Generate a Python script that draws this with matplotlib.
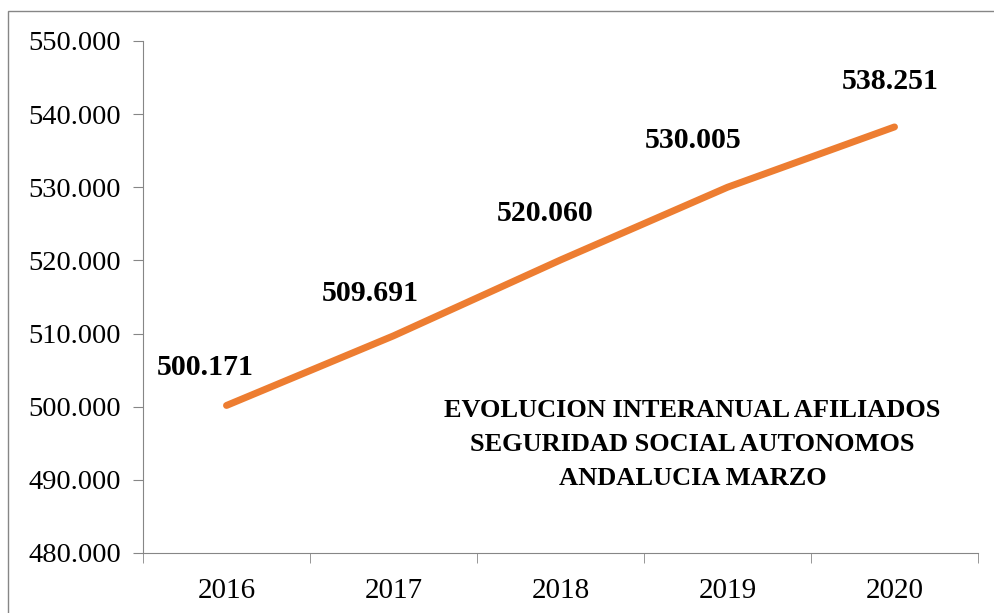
import numpy as np
import matplotlib.pyplot as plt
from matplotlib.patches import Rectangle
from matplotlib.ticker import FuncFormatter, FixedLocator

# Datos: afiliados autonomos Andalucia (marzo)
anios = ['2016', '2017', '2018', '2019', '2020']
afiliados = [500171, 509691, 520060, 530005, 538251]
titulo = 'EVOLUCION INTERANUAL AFILIADOS\nSEGURIDAD SOCIAL AUTONOMOS\nANDALUCIA MARZO'

# desplazamiento de las etiquetas (px) respecto al punto
desplaz = [(-21, 38), (-23, 42), (-15, 46), (-34, 47), (-4, 45)]

fuente = 'Liberation Serif'
gris = '#868686'
naranja = '#ED7D31'

def miles(v, pos=None):
    return f"{v:,.0f}".replace(",", ".")

fig = plt.figure(figsize=(9.95, 6.13), dpi=100)
ax = fig.add_axes([143/995, 1 - 553/613, (978 - 143)/995, (553 - 41)/613])

x = np.arange(len(anios))
ax.plot(x, afiliados, color=naranja, linewidth=5, solid_capstyle='round', solid_joinstyle='round')

for i, v in enumerate(afiliados):
    ax.annotate(miles(v), (x[i], v), xytext=desplaz[i], textcoords='offset pixels',
                ha='center', va='center', fontsize=21.5, fontweight='bold', family=fuente)

ax.set_xlim(-0.5, len(anios) - 0.5)
ax.set_ylim(480000, 550000)
ax.yaxis.set_major_locator(FixedLocator(np.arange(480000, 550001, 10000)))
ax.yaxis.set_major_formatter(FuncFormatter(miles))
ax.set_xticks(x)
ax.set_xticklabels(anios)
ax.xaxis.set_minor_locator(FixedLocator(np.arange(-0.5, len(anios), 1.0)))

ax.tick_params(axis='x', which='major', length=0, pad=18, labelsize=21)
ax.tick_params(axis='x', which='minor', length=7, color=gris, direction='out')
ax.tick_params(axis='y', length=7, color=gris, pad=9, labelsize=20.5)
for lbl in ax.get_xticklabels() + ax.get_yticklabels():
    lbl.set_family(fuente)

for s in ['top', 'right']:
    ax.spines[s].set_visible(False)
for s in ['left', 'bottom']:
    ax.spines[s].set_color(gris)

ax.text(0.658, 0.212, titulo, transform=ax.transAxes, ha='center', va='center',
        fontsize=19, fontweight='bold', family=fuente, linespacing=1.62)

# borde del area del grafico
fig.patches.append(Rectangle((8/995, -0.1), 1.2, 1.1 - 11/613, transform=fig.transFigure,
                             fill=False, edgecolor=gris, linewidth=1))

fig.savefig('out.png', dpi=100)
